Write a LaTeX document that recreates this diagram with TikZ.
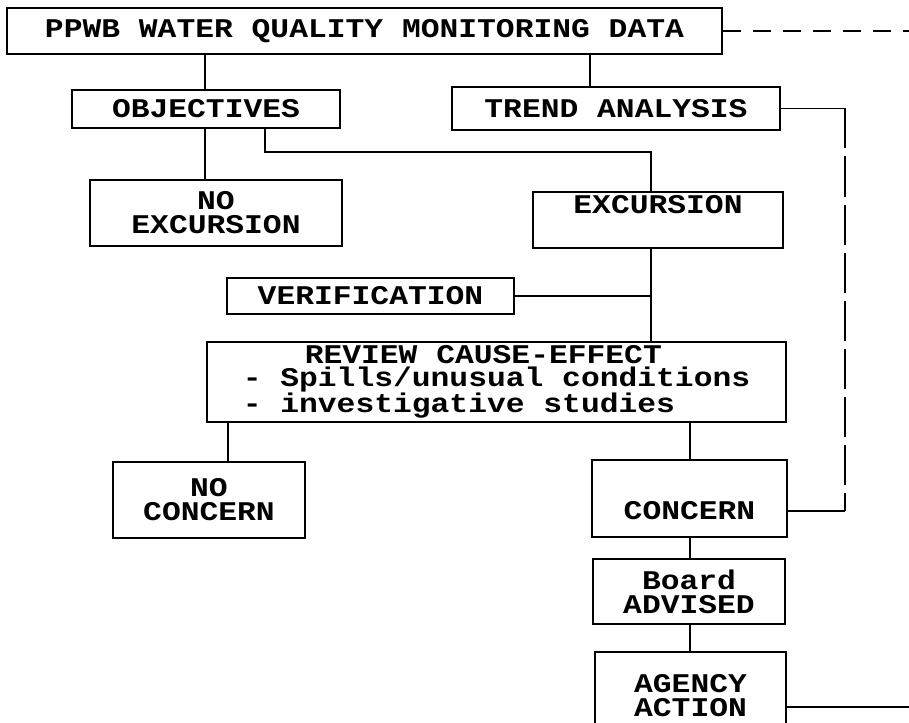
\documentclass[tikz,border=0pt]{standalone}
\usepackage{fontspec}
\setmainfont{Liberation Mono}[FakeStretch=1.16]
\begin{document}
\begin{tikzpicture}[x=1pt,y=-1pt,
  box/.style={draw, line width=2pt, inner sep=0pt, align=center,
    font=\fontsize{27}{24}\selectfont\bfseries},
  conn/.style={line width=1.6pt},
  dsh/.style={line width=1.6pt, dash pattern=on 18pt off 12pt},
  vdsh/.style={line width=1.6pt, dash pattern=on 40pt off 8pt}]
\useasboundingbox (0,0) rectangle (909,722);
\node[box, minimum width=715pt, minimum height=46pt] (top) at (364.5,31) {PPWB WATER QUALITY MONITORING DATA};
\node[box, minimum width=268pt, minimum height=38pt] (obj) at (206,109) {OBJECTIVES};
\node[box, minimum width=328pt, minimum height=43pt] (trend) at (616,108.5) {TREND ANALYSIS};
\node[box, minimum width=252pt, minimum height=66pt] (noexc) at (216,213) {NO\\EXCURSION};
\node[box, minimum width=250pt, minimum height=56pt] (exc) at (658,220) {EXCURSION\\\strut};
\node[box, minimum width=287pt, minimum height=36pt] (verif) at (370.5,296) {VERIFICATION};
\node[box, minimum width=579pt, minimum height=80pt, align=left, font=\fontsize{27}{22.5}\selectfont\bfseries] (review) at (496.5,382) {\hspace*{62pt}REVIEW CAUSE-EFFECT\\- Spills/unusual conditions\\- investigative studies};
\node[box, minimum width=192pt, minimum height=76pt] (nocon) at (209,500) {NO\\CONCERN};
\node[box, minimum width=195pt, minimum height=77pt] (con) at (689.5,498.5) {\strut\\CONCERN};
\node[box, minimum width=192pt, minimum height=65pt] (board) at (689,591.5) {Board\\ADVISED};
\node[box, minimum width=191pt, minimum height=88pt] (agency) at (690.5,696) {AGENCY\\ACTION};
% helper coordinates
\coordinate (x205) at (205,0);
\coordinate (x590) at (590,0);
\coordinate (x265) at (265,0);
\coordinate (x651) at (651,0);
\coordinate (x228) at (228,0);
\coordinate (x690) at (690,0);
\coordinate (bend1) at (265,152);
\coordinate (bend2) at (651,152);
\coordinate (dend) at (909,31);
\coordinate (tc1) at (845,108.5);
\coordinate (tc2) at (845,511);
\coordinate (aend) at (909,707);
% connectors
\draw[conn] (top.south -| x205) -- (obj.north -| x205);
\draw[conn] (top.south -| x590) -- (trend.north -| x590);
\draw[dsh] (top.east) -- (dend);
\draw[conn] (obj.south -| x205) -- (noexc.north -| x205);
\draw[conn] (obj.south -| x265) -- (bend1) -- (bend2) -- (exc.north -| x651);
\draw[conn] (exc.south -| x651) -- (review.north -| x651);
\draw[conn] (verif.east) -- (verif.east -| x651);
\draw[conn] (trend.east) -- (tc1);
\draw[vdsh] (tc1) -- (tc2);
\draw[conn] (tc2) -- (con.east |- tc2);
\draw[conn] (review.south -| x228) -- (nocon.north -| x228);
\draw[conn] (review.south -| x690) -- (con.north -| x690);
\draw[conn] (con.south -| x690) -- (board.north -| x690);
\draw[conn] (board.south -| x690) -- (agency.north -| x690);
\draw[conn] (agency.east |- aend) -- (aend);
\end{tikzpicture}
\end{document}
